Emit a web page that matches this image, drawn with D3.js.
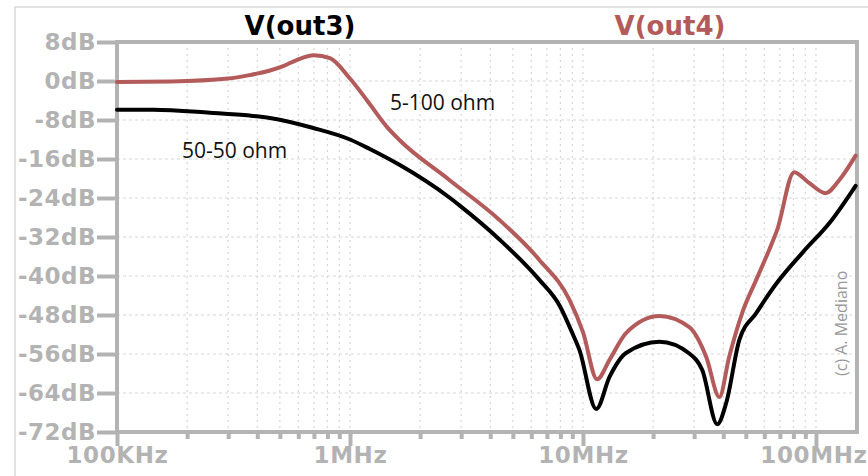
<!DOCTYPE html>
<html>
<head>
<meta charset="utf-8">
<script src="https://cdn.jsdelivr.net/npm/d3@7"></script>
<style>
  html, body { margin: 0; padding: 0; background: #fff; }
  svg { display: block; }
</style>
</head>
<body>
<svg id="chart" width="868" height="476"></svg>
<script>
// ---- data (frequency in MHz, gain in dB) ----
const out4Freq = [0.1, 0.17, 0.3, 0.37, 0.45, 0.52, 0.59, 0.7, 0.82, 1.0, 1.18, 1.44, 1.63, 2.67, 4.38, 6.5, 8.75, 10.0, 11.5, 13.0, 15.3, 21.3, 28.6, 33.8, 38.5, 42.4, 48.2, 55.4, 62.9, 68.1, 80.6, 93.4, 110, 126, 148];
const out4dB   = [-0.2, -0.1, 0.5, 1.2, 2.1, 3.1, 4.3, 5.3, 4.7, 0.5, -3.9, -9.4, -12.1, -20.3, -28.5, -36.7, -44.9, -51.5, -61.2, -57.2, -51.7, -48.2, -50.5, -56.6, -64.8, -56.6, -47.6, -40.8, -34.7, -30.6, -18.7, -20.9, -23.0, -20.3, -15.3];

const out3Freq = [0.1, 0.143, 0.25, 0.372, 0.453, 0.69, 1.0, 1.21, 1.63, 2.67, 2.95, 4.38, 6.5, 7.92, 9.0, 9.66, 11.4, 13.0, 15.3, 21.3, 28.6, 32.5, 37.7, 41.2, 46.9, 55.4, 68.0, 87.2, 117, 148];
const out3dB   = [-5.9, -5.9, -6.5, -7.1, -7.6, -9.6, -12.0, -13.9, -17.2, -23.9, -25.5, -32.5, -40.8, -46.0, -51.7, -55.2, -67.3, -60.7, -55.8, -53.5, -55.9, -59.3, -70.4, -66.0, -53.1, -47.6, -41.4, -35.3, -28.5, -21.5];

const yTickValues = [8, 0, -8, -16, -24, -32, -40, -48, -56, -64, -72];
const yTickLabels = ["8dB", "0dB", "-8dB", "-16dB", "-24dB", "-32dB", "-40dB", "-48dB", "-56dB", "-64dB", "-72dB"];
const xMajorValues = [1e5, 1e6, 1e7, 1e8];
const xMajorLabels = ["100KHz", "1MHz", "10MHz", "100MHz"];
const seriesNames = ["V(out3)", "V(out4)"];
const annotations = ["50-50 ohm", "5-100 ohm"];
const credit = "(c) A. Mediano";

// ---- layout ----
const svg = d3.select("#chart");
const L = 117, R = 857, T = 42, B = 432;
const axisColor = "#b3b3b3";
const gridColor = "#d6d6d6";
const redColor = "#b35a5a";
const tickFont = "DejaVu Sans, Verdana, sans-serif";

const x = d3.scaleLog().domain([1e5, 1.5e8]).range([L, R]);
const y = d3.scaleLinear().domain([-72, 8]).range([B, T]);

const xMinor = [];
[1e5, 1e6, 1e7].forEach(d => { for (let k = 2; k <= 9; k++) xMinor.push(d * k); });
const xAllTicks = xMajorValues.concat(xMinor);

// outer frame
svg.append("path")
  .attr("d", "M15,476 L15,7 L868,7")
  .attr("fill", "none").attr("stroke", "#d9d9d9").attr("stroke-width", 1.5);

// grid
const grid = svg.append("g");
grid.selectAll("line.hg").data(yTickValues.filter(v => v > -72 && v < 8)).join("line")
  .attr("x1", L).attr("x2", R).attr("y1", d => y(d)).attr("y2", d => y(d))
  .attr("stroke", gridColor).attr("stroke-width", 1.2).attr("stroke-dasharray", "3,3");
grid.selectAll("line.vg").data(xAllTicks.filter(v => v > 1e5)).join("line")
  .attr("x1", d => x(d)).attr("x2", d => x(d)).attr("y1", T).attr("y2", B)
  .attr("stroke", gridColor).attr("stroke-width", 1.2).attr("stroke-dasharray", "2,4");

// axes
const yAxis = d3.axisLeft(y).tickValues(yTickValues)
  .tickFormat((d, i) => yTickLabels[i]).tickSize(20).tickPadding(1);
const gy = svg.append("g").attr("transform", `translate(${L},0)`).call(yAxis);
gy.select(".domain").remove();
gy.selectAll(".tick line").attr("stroke", axisColor).attr("stroke-width", 4);
gy.selectAll(".tick text")
  .attr("fill", axisColor).attr("font-family", tickFont)
  .attr("font-weight", "bold").attr("font-size", "23px").attr("letter-spacing", "0.5px");

const xAxisMinor = d3.axisBottom(x).tickValues(xMinor).tickFormat("").tickSize(7);
const gxm = svg.append("g").attr("transform", `translate(0,${B})`).call(xAxisMinor);
gxm.select(".domain").remove();
gxm.selectAll(".tick line").attr("stroke", axisColor).attr("stroke-width", 4);

const xAxisMajor = d3.axisBottom(x).tickValues(xMajorValues)
  .tickFormat((d, i) => xMajorLabels[i]).tickSize(14).tickPadding(1);
const gx = svg.append("g").attr("transform", `translate(0,${B})`).call(xAxisMajor);
gx.select(".domain").remove();
gx.selectAll(".tick line").attr("stroke", axisColor).attr("stroke-width", 4);
gx.selectAll(".tick text")
  .attr("fill", axisColor).attr("font-family", tickFont)
  .attr("font-weight", "bold").attr("font-size", "23px").attr("letter-spacing", "0.6px");
// keep the last label inside the picture
gx.selectAll(".tick text").filter((d, i) => i === xMajorValues.length - 1)
  .attr("text-anchor", "end").attr("x", 867 - x(1e8));

// plot box
svg.append("rect").attr("x", L).attr("y", T).attr("width", R - L).attr("height", B - T)
  .attr("fill", "none").attr("stroke", axisColor).attr("stroke-width", 4);

// series
const line = d3.line().x(d => x(d[0] * 1e6)).y(d => y(d[1])).curve(d3.curveMonotoneX);
const out3 = out3Freq.map((f, i) => [f, out3dB[i]]);
const out4 = out4Freq.map((f, i) => [f, out4dB[i]]);

svg.append("path").datum(out3).attr("d", line)
  .attr("fill", "none").attr("stroke", "#000").attr("stroke-width", 4)
  .attr("stroke-linejoin", "round").attr("stroke-linecap", "round");
svg.append("path").datum(out4).attr("d", line)
  .attr("fill", "none").attr("stroke", redColor).attr("stroke-width", 4)
  .attr("stroke-linejoin", "round").attr("stroke-linecap", "round");

// titles
svg.append("text").attr("x", 300).attr("y", 35).attr("text-anchor", "middle")
  .attr("font-family", tickFont).attr("font-weight", "bold")
  .attr("font-size", "26px").attr("fill", "#000").text(seriesNames[0]);
svg.append("text").attr("x", 670).attr("y", 35).attr("text-anchor", "middle")
  .attr("font-family", tickFont).attr("font-weight", "bold")
  .attr("font-size", "26px").attr("fill", redColor).text(seriesNames[1]);

// annotations
svg.append("text").attr("x", 182).attr("y", 158)
  .attr("font-family", "Open Sans, sans-serif").attr("font-size", "21px")
  .attr("fill", "#111").text(annotations[0]);
svg.append("text").attr("x", 390).attr("y", 110)
  .attr("font-family", "Open Sans, sans-serif").attr("font-size", "21px")
  .attr("fill", "#111").text(annotations[1]);

// credit
svg.append("text").attr("transform", "translate(847,376) rotate(-90)")
  .attr("font-family", "Open Sans, sans-serif").attr("font-size", "16px")
  .attr("fill", "#999").text(credit);
</script>
</body>
</html>
